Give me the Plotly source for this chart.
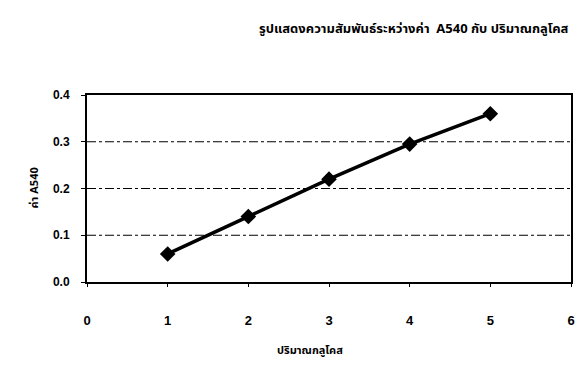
import plotly.graph_objects as go

glucose = [1, 2, 3, 4, 5]
a540 = [0.06, 0.14, 0.22, 0.295, 0.36]
x_ticks = [0, 1, 2, 3, 4, 5, 6]
y_ticks = [0.0, 0.1, 0.2, 0.3, 0.4]
y_tick_text = ["0.0", "0.1", "0.2", "0.3", "0.4"]

title_text = "รูปแสดงความสัมพันธ์ระหว่างค่า  A540 กับ ปริมาณกลูโคส"
x_title = "ปริมาณกลูโคส"
y_title = "ค่า A540"

font_family = "Noto Sans Thai, Noto Sans, Liberation Sans, Arial, sans-serif"
num_font = "Liberation Sans, Arial, sans-serif"

fig = go.Figure()

# dash-dot horizontal grid lines
for yv in y_ticks[1:-1]:
    fig.add_shape(type="line", xref="paper", x0=0, x1=1, yref="y", y0=yv, y1=yv,
                  line=dict(color="black", width=1, dash="dashdot"), layer="below")

fig.add_trace(go.Scatter(
    x=glucose, y=a540, mode="lines+markers",
    line=dict(color="black", width=3.5),
    marker=dict(symbol="diamond", size=12, color="black"),
    showlegend=False,
))

fig.update_layout(
    width=579, height=388,
    margin=dict(l=87, r=4, t=95, b=106),
    paper_bgcolor="white", plot_bgcolor="white",
    font=dict(family=font_family, color="black", size=11),
    xaxis=dict(range=[0, 6], tickvals=x_ticks, showgrid=False, zeroline=False,
               showline=True, linecolor="black", linewidth=2, mirror=True,
               ticks="outside", ticklen=3, tickcolor="black",
               ticklabelstandoff=22,
               tickfont=dict(size=13, family=num_font, weight="bold")),
    yaxis=dict(range=[0, 0.4], tickvals=y_ticks, ticktext=y_tick_text,
               showgrid=False, zeroline=False,
               showline=True, linecolor="black", linewidth=2, mirror=True,
               ticks="outside", ticklen=4, tickcolor="black",
               ticklabelstandoff=9,
               tickfont=dict(size=12, family=num_font, weight="bold")),
    annotations=[
        dict(text="<b>" + title_text + "</b>", xref="paper", yref="paper",
             x=1.0, y=1.0, xanchor="right", yanchor="middle",
             yshift=66, showarrow=False, font=dict(size=13)),
        dict(text="<b>" + x_title + "</b>", xref="paper", yref="paper",
             x=0.46, y=0, xanchor="center", yanchor="middle",
             yshift=-68, showarrow=False, font=dict(size=11)),
        dict(text="<b>" + y_title + "</b>", xref="paper", yref="paper",
             x=0, y=0.5, xanchor="center", yanchor="middle", textangle=-90,
             xshift=-53, showarrow=False, font=dict(size=11)),
    ],
)

fig.write_html("out.html")
